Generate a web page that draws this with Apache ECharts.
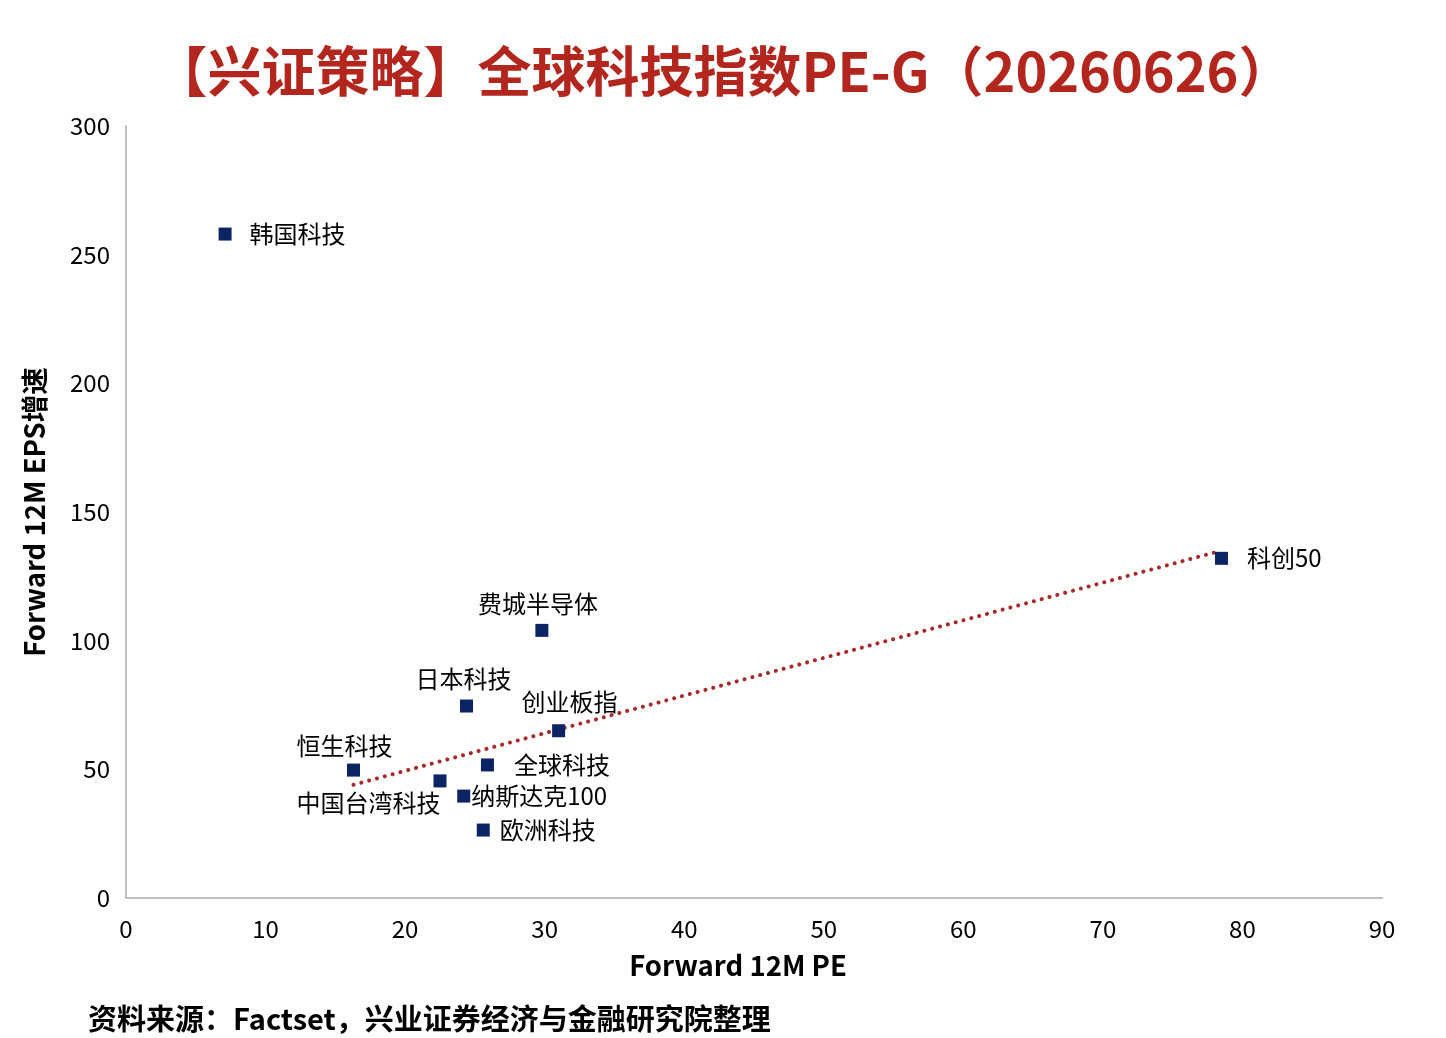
<!DOCTYPE html>
<html>
<head>
<meta charset="utf-8">
<script src="https://cdn.jsdelivr.net/npm/echarts@6/dist/echarts.min.js"></script>
<style>
  html, body { margin: 0; padding: 0; background: #fff; }
  #main { width: 1446px; height: 1038px; }
</style>
</head>
<body>
<div id="main"></div>
<script>
// 各指数：名称 / Forward 12M PE / Forward 12M EPS增速
var names = ['韩国科技', '科创50', '费城半导体', '日本科技', '创业板指', '恒生科技', '全球科技', '中国台湾科技', '纳斯达克100', '欧洲科技'];
var peValues = [7.1, 78.5, 29.8, 24.4, 31.0, 16.3, 25.9, 22.5, 24.2, 25.6];
var epsGrowth = [258, 132, 104, 74.6, 65, 49.7, 51.7, 45.5, 39.6, 26.4];

// 趋势线两端
var trendPe = [16.3, 78.5];
var trendEps = [44, 135];

var xTicks = [0, 10, 20, 30, 40, 50, 60, 70, 80, 90];
var yTicks = [0, 50, 100, 150, 200, 250, 300];

// 标签摆放
var labelCfg = {
    '韩国科技': { position: 'right', distance: 18 },
    '科创50': { position: 'right', distance: 19 },
    '费城半导体': { position: 'top', distance: 8, offset: [-4, 0] },
    '日本科技': { position: 'top', distance: 9, offset: [-3, 0] },
    '创业板指': { position: 'top', distance: 10, offset: [11, 0] },
    '恒生科技': { position: 'top', distance: 6, offset: [-9, 0] },
    '全球科技': { position: 'right', distance: 20 },
    '中国台湾科技': { position: 'left', distance: 0, offset: [7, 22] },
    '纳斯达克100': { position: 'right', distance: 1 },
    '欧洲科技': { position: 'right', distance: 10 }
};

var FONT = '"Noto Sans CJK SC", "Noto Sans", sans-serif';

var pts = names.map(function (n, i) {
    var c = labelCfg[n];
    return {
        name: n,
        value: [peValues[i], epsGrowth[i]],
        label: {
            show: true,
            formatter: n,
            position: c.position,
            distance: c.distance,
            offset: c.offset || [0, 0]
        }
    };
});

var chart = echarts.init(document.getElementById('main'));
chart.setOption({
    backgroundColor: '#fff',
    animation: false,
    title: {
        text: '【兴证策略】全球科技指数PE-G（20260626）',
        left: 'center',
        top: 39,
        textStyle: { color: '#b3261e', fontSize: 54, fontWeight: 'bold', fontFamily: FONT }
    },
    grid: { left: 126, right: 64, top: 126, bottom: 140 },
    xAxis: {
        type: 'value',
        min: xTicks[0],
        max: xTicks[xTicks.length - 1],
        interval: 10,
        name: 'Forward 12M PE',
        nameLocation: 'middle',
        nameGap: 54,
        nameTextStyle: { color: '#000', fontSize: 27.5, fontWeight: 'bold', fontFamily: FONT, padding: [0, 32, 0, 0] },
        axisLine: { show: true, lineStyle: { color: '#bfbfbf', width: 2 } },
        axisTick: { show: false },
        splitLine: { show: false },
        axisLabel: { color: '#000', fontSize: 24, margin: 19, fontFamily: FONT }
    },
    yAxis: {
        type: 'value',
        min: yTicks[0],
        max: yTicks[yTicks.length - 1],
        interval: 50,
        name: 'Forward 12M EPS增速',
        nameLocation: 'middle',
        nameGap: 78,
        nameRotate: 90,
        nameTextStyle: { color: '#000', fontSize: 27.5, fontWeight: 'bold', fontFamily: FONT },
        axisLine: { show: true, lineStyle: { color: '#bfbfbf', width: 2 } },
        axisTick: { show: false },
        splitLine: { show: false },
        axisLabel: { color: '#000', fontSize: 24, margin: 16, fontFamily: FONT }
    },
    series: [
        {
            type: 'line',
            data: trendPe.map(function (x, i) { return [x, trendEps[i]]; }),
            symbol: 'none',
            silent: true,
            z: 1,
            lineStyle: { color: '#a52a2a', width: 4, type: [0.1, 8], cap: 'round' }
        },
        {
            type: 'scatter',
            data: pts,
            symbol: 'rect',
            symbolSize: 13,
            z: 2,
            itemStyle: { color: '#0c2463', opacity: 1 },
            label: { color: '#000', fontSize: 24, fontFamily: FONT }
        }
    ],
    graphic: [
        {
            type: 'text',
            left: 88,
            top: 1004,
            style: {
                text: '资料来源：Factset，兴业证券经济与金融研究院整理',
                fill: '#000',
                fontSize: 29,
                fontWeight: 'bold',
                fontFamily: FONT
            }
        }
    ]
});
</script>
</body>
</html>
